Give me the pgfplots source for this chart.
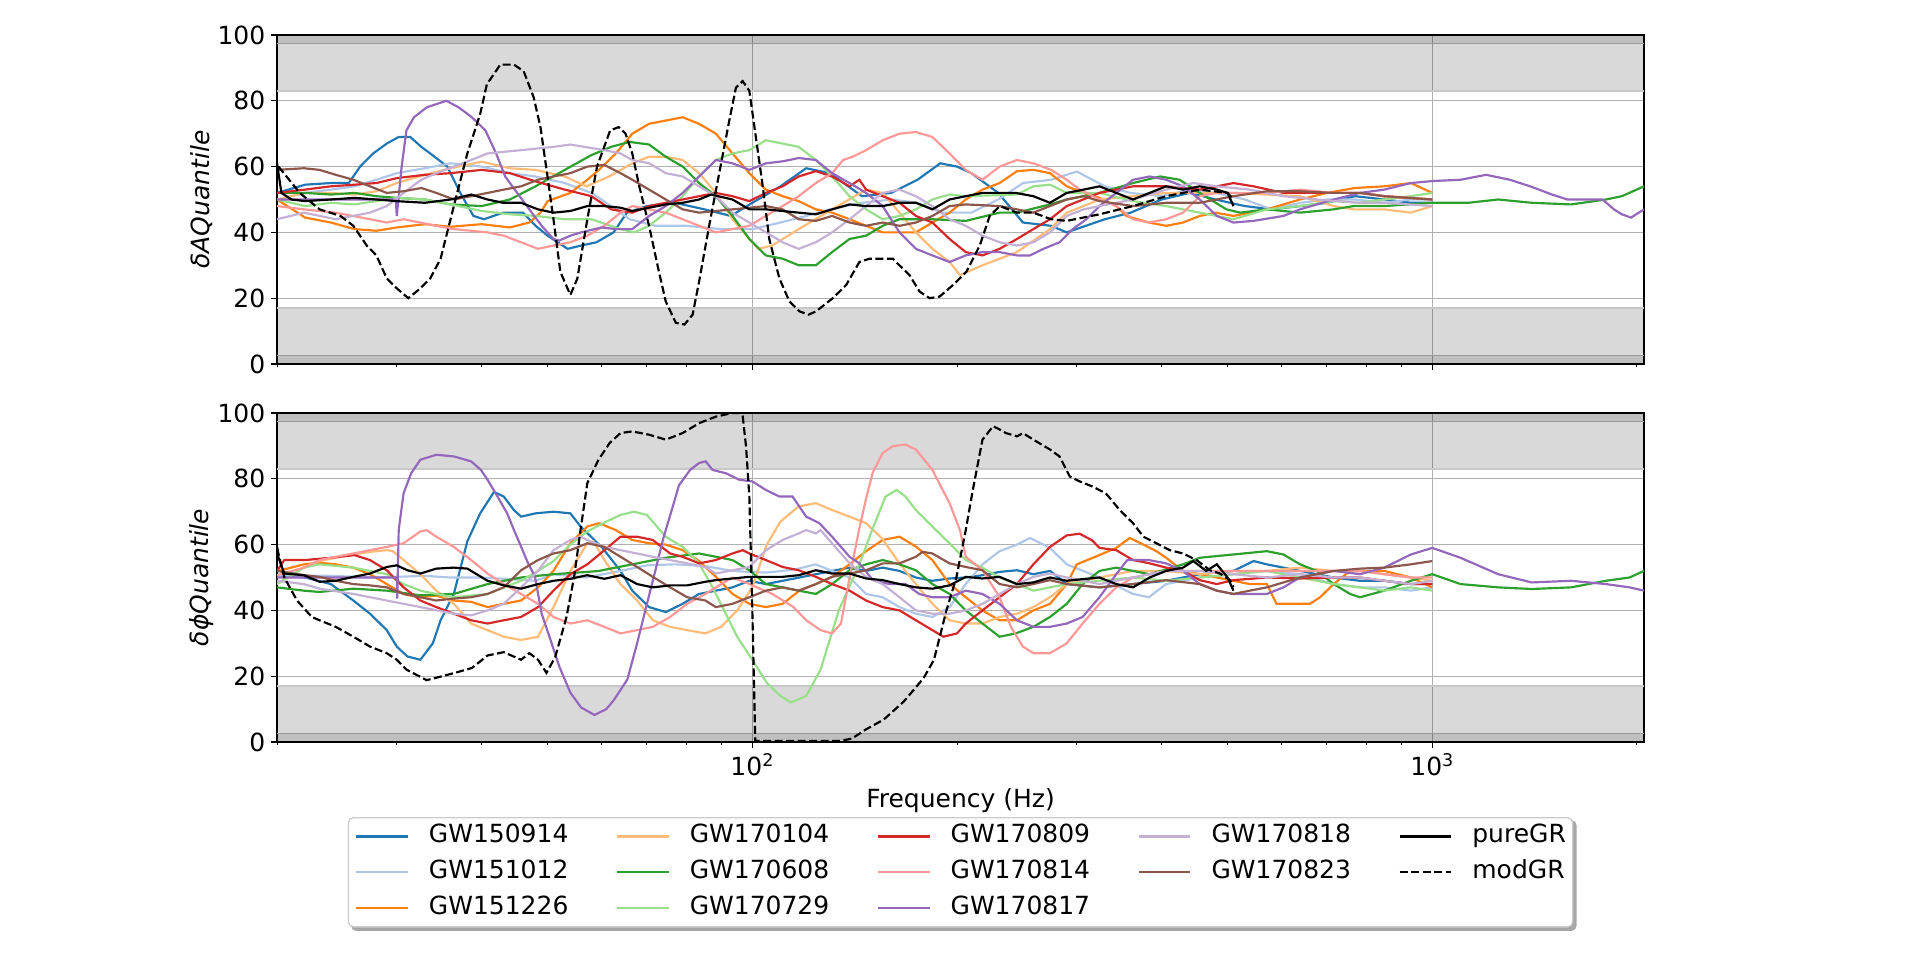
\documentclass[border=0pt]{standalone}
\usepackage{fontspec}
\setmainfont{DejaVu Sans}
\usepackage{pgfplots}
\pgfplotsset{compat=1.18}
\pgfdeclarelayer{background}
\pgfsetlayers{background,main}
\definecolor{c1}{HTML}{1F77B4}
\definecolor{c2}{HTML}{AEC7E8}
\definecolor{c3}{HTML}{FF7F0E}
\definecolor{c4}{HTML}{FFBB78}
\definecolor{c5}{HTML}{2CA02C}
\definecolor{c6}{HTML}{98DF8A}
\definecolor{c7}{HTML}{D62728}
\definecolor{c8}{HTML}{FF9896}
\definecolor{c9}{HTML}{9467BD}
\definecolor{c10}{HTML}{C5B0D5}
\definecolor{c11}{HTML}{8C564B}
\definecolor{gridc}{HTML}{B0B0B0}
\definecolor{legc}{HTML}{CCCCCC}
\definecolor{bandline}{HTML}{C8C8C8}
\definecolor{darkline}{HTML}{999999}
\newcommand{\myfs}{\fontsize{15}{18}\selectfont}
\newcommand{\bands}{%
  \fill[black, fill opacity=0.15] (rel axis cs:0,0.83) rectangle (rel axis cs:1,1);
  \fill[black, fill opacity=0.12] (rel axis cs:0,0.975) rectangle (rel axis cs:1,1);
  \fill[black, fill opacity=0.15] (rel axis cs:0,0) rectangle (rel axis cs:1,0.17);
  \fill[black, fill opacity=0.12] (rel axis cs:0,0) rectangle (rel axis cs:1,0.025);
  \draw[bandline, line width=0.8pt] (rel axis cs:0,0.83) -- (rel axis cs:1,0.83);
  \draw[bandline, line width=0.8pt] (rel axis cs:0,0.17) -- (rel axis cs:1,0.17);
  \draw[darkline, line width=0.8pt] (rel axis cs:0,0.975) -- (rel axis cs:1,0.975);
  \draw[darkline, line width=0.8pt] (rel axis cs:0,0.025) -- (rel axis cs:1,0.025);
}
\begin{document}
\begin{tikzpicture}
\path[use as bounding box] (0,0) rectangle (1152pt,573pt);
% ---------------- TOP PANEL ----------------
\begin{axis}[at={(166.2pt,354.6pt)}, anchor=south west,
    scale only axis, width=820.2pt, height=197.4pt,
    xmode=log, xmin=20, xmax=2048, ymin=0, ymax=100,
    xtick={100,1000}, xticklabels={},
    minor xtick={20,30,40,50,60,70,80,90,200,300,400,500,600,700,800,900,2000},
    ytick={0,20,40,60,80,100},
    yticklabels={0,20,40,60,80,100},
    xmajorgrids, ymajorgrids,
    major grid style={draw=gridc, line width=0.8pt},
    tick align=outside, tick pos=left,
    major tick length=3.5pt, minor tick length=2pt,
    major tick style={black, line width=0.8pt},
    minor tick style={black, line width=0.6pt},
    axis line style={line width=0.8pt},
    tick label style={font=\myfs},
    ylabel style={font=\myfs, at={(axis description cs:-0.0553,0.5)}, anchor=center},
    ylabel={\textit{δAQuantile}}]
\bands
\addplot[c1, line width=1.3pt] coordinates {(20,52)(22,54.5)(24,55)(25.5,55)(26.5,60)(27.7,64)(29,67)(30.2,69)(31.4,69)(32.6,66)(34.1,63)(35.6,60)(37.2,52)(38.9,45)(40.3,44)(43,46)(46,46)(48,42)(50,39)(53.5,35)(56,36)(59,37)(62.5,40)(65.4,46)(70,48)(77,49)(85,47)(93,45)(100,49)(110,54)(120,59.5)(130,58)(145,51)(160,52)(175,56)(189,61)(200,60)(210,58)(230,52)(250,43)(275,42)(290,40)(330,44)(360,46)(400,50)(440,52)(480,50)(530,48)(580,47)(640,48)(700,49)(770,51)(850,50)(930,49)(1000,49)};
\addplot[c2, line width=1.3pt] coordinates {(20,50)(22,52)(24,53)(26,54)(28,56)(30,58)(33,59.5)(36,61)(40,60)(44,58)(48,57)(53,55)(58,52)(62,48)(66,44)(72,42)(80,42)(90,41)(100,41)(110,43)(120,45)(130,47)(145,49)(160,50)(175,49)(190,46)(210,46)(230,50)(250,55)(275,56)(300,58.5)(330,54)(360,52)(400,51)(440,53)(480,52)(530,50)(580,47)(640,49)(700,50)(770,50)(850,49)(930,50)(1000,50)};
\addplot[c3, line width=1.3pt] coordinates {(20,50)(22,44.5)(24,43)(26,41)(28,40.5)(30,41.5)(33,42.5)(36,41.7)(40,42.5)(44,41.5)(47,43)(48.8,46)(50,49.5)(54,52)(57.2,56)(59.5,59)(63,64)(66.6,70)(70.5,73)(74.6,74)(79,75)(83.5,73)(88.4,70)(93.5,64)(99,58)(104.7,53)(110.8,51)(117,49.5)(124,47)(131,46)(139,44)(147,42)(155.5,40)(164.6,40)(174,40)(184,43)(195,46)(206,50)(218,53)(231,55)(245,58.6)(259,59)(274,58)(290,54)(307,52)(324,50.5)(343,48)(355,45)(383,43)(406,42)(430,43)(455,45)(480,46)(510,45)(571,47)(639,50)(700,52)(770,53.5)(850,54)(930,55)(1000,52)};
\addplot[c4, line width=1.3pt] coordinates {(20,50)(22,52)(24,52)(26,51.5)(28,52.5)(30,55)(33,57.5)(36,59.5)(40,61.5)(44,59.5)(48,59)(53,57)(57,54)(61.6,57)(66.6,61)(70.5,63)(74.6,63)(79,62)(83.5,58)(88.4,52)(93.5,44)(99,38)(102,35)(107,36)(117,41)(131,47)(147,53)(155.5,52)(164.6,46)(174,40)(184,35)(195,31)(202,27)(218,30)(245,34)(274,41)(290,46)(307,48)(324,50)(363,51)(406,52)(510,52)(639,51)(716,48)(766,47)(850,47)(930,46)(1000,48)};
\addplot[c5, line width=1.3pt] coordinates {(20,52)(22,52)(24,51.5)(26,52)(28,51)(30,50.5)(33,50)(36,48.5)(40,48)(44,50)(48,54)(53,59)(58,63.5)(62,66)(66,67.5)(70.5,66.7)(74.6,63)(79,60)(83.5,55)(88.4,51)(93.5,45)(99,38)(104.7,33)(110.8,32)(117,30)(124,30)(131,34)(139,38)(147,39)(155.5,42)(164.6,44)(184,44)(206,43.5)(231,46)(245,46)(274,48.5)(290,50)(324,52)(363,55)(398,57)(425,56)(455,52)(498,47)(522,46)(571,47)(639,46)(716,47)(766,48)(850,48)(1000,49)(1130,49)(1250,50)(1400,49)(1600,48.5)(1800,50)(1900,51)(2048,54)};
\addplot[c6, line width=1.3pt] coordinates {(20,50)(22,48)(24,49)(26,48.5)(28,49.5)(30,50.5)(33,50)(36,48.5)(40,46.5)(44,45.5)(48,45)(53,44)(58,44)(64,41)(67,40)(70.5,42)(74.6,46)(79,51)(83.5,57)(88.4,62)(93.5,64)(99,65)(104.7,68)(110.8,67)(117,66)(124,62)(131,57)(139,51)(147,47)(155.5,44)(164.6,45)(174,47)(184,50)(195,51.5)(206,51)(245,51.5)(259,54)(274,54.5)(290,52)(324,52)(363,49.5)(406,48)(455,46)(510,44)(571,47)(639,48)(716,49.5)(780,49)(850,50)(930,51)(1000,52)};
\addplot[c7, line width=1.3pt] coordinates {(20,52)(22,53)(24,54)(26,54.5)(28,55)(30,56.5)(33,57.5)(36,58)(40,59)(44,58)(48,55.5)(53,53)(58,51)(62,47)(66.6,46)(70.5,48)(74.6,49)(79,50)(83.5,51)(88.4,52)(93.5,51)(99,49.5)(104.7,52)(110.8,54)(117,57)(124,58.6)(131,57)(139,54)(143.7,56)(147,53)(155.5,51)(164.6,49)(174,45)(184,43)(195,38)(206,34)(218,33)(231,35)(245,38)(259,41)(274,44)(290,48)(324,52)(363,54)(406,54)(455,53)(510,55)(546,54)(604,52)(716,52)(783,52)(850,51)(1000,50)};
\addplot[c8, line width=1.3pt] coordinates {(20,48)(21.9,47)(24.4,46)(27.4,44)(29,43)(30.7,44)(34.3,42)(36.4,41)(40.8,40)(43.1,39)(45.7,37)(48.4,35)(51,36)(54,37)(57.2,39)(60.6,42)(64,46)(66.6,48)(70.5,47)(74.6,46)(79,44)(83.5,42)(88.4,40)(93.5,41)(99,42)(104.7,45)(110.8,48)(117,51)(124,55)(131,58)(136,62)(140.5,63)(147,65)(155.5,68)(164.6,70)(174,70.5)(184,69)(195,64)(206,59)(218,56)(231,60)(245,62)(259,61)(275,59)(290,56)(303,53)(324,50)(343,48)(363,44)(383,43)(406,44)(430,46)(455,51)(482,52)(571,52)(639,53)(716,52)(783,52)(850,51)(1000,50)};
\addplot[c9, line width=1.3pt] coordinates {(20,50)(29.9,50)(30,45)(30.5,60)(31,71)(31.8,75)(33.2,78)(35.5,80)(37,78)(38.7,75)(40.5,71)(42,64)(43.3,57)(45.1,52)(47,47)(49,42)(51,38)(52,37.5)(54,39)(56,40)(60,41.5)(63,41)(66.6,41)(70.5,45)(74.6,48)(79,52)(83.5,57)(88.4,62)(93.5,61)(99,59)(104.7,61)(110.8,61.6)(117,62.6)(124,62)(131,58)(139,55)(147,52)(155.5,48)(164.6,40)(174,35)(184,33)(195,31)(206,33)(218,34)(231,34)(245,33)(256,33)(268,35)(283,37)(296,41)(310,44)(324,48)(343,52)(363,56)(384,57)(406,56)(430,54)(455,50)(482,45)(510,43)(546,43.5)(604,45)(639,47)(716,50)(783,52)(850,53)(930,55)(1000,55.6)(1100,56)(1200,57.5)(1300,56)(1393,54)(1500,51.5)(1580,50)(1700,50)(1780,50)(1850,47)(1900,45.5)(1960,44.5)(2048,47)};
\addplot[c10, line width=1.3pt] coordinates {(20,44)(21.9,46)(24.4,44)(27.4,46)(29,48)(30.7,52)(32.6,56)(34.3,58)(36.4,60)(38.6,62)(40.8,64)(45.7,65)(51,66)(54,66.7)(60.6,65)(64,64)(66.6,62)(70.5,61)(74.6,58)(79,57)(83.5,54)(88.4,51)(93.5,46)(99,43)(104.7,40)(110.8,37)(117,35)(124,37)(131,40)(139,44)(147,48)(155.5,52)(164.6,53)(174,51)(184,48)(195,44)(206,42)(218,39)(231,37)(245,36)(259,37)(274,40)(290,45)(307,47)(324,48)(363,50)(406,53)(445,55)(482,54)(539,53)(604,51)(676,50)(783,49)(850,49)(1000,48)};
\addplot[c11, line width=1.3pt] coordinates {(20,59)(21.9,59.5)(23.1,59)(24.4,57.5)(25.9,56)(27.4,54)(29,52)(30.7,52.5)(32.6,53.5)(34.3,52)(36.4,50)(38.6,51)(40.8,52)(43.1,53)(45.7,54)(48.4,56)(51,57)(54,58)(57.2,60)(60.6,60.5)(64,58)(66.6,56)(70.5,53)(74.6,50)(79,47)(83.5,46)(88.4,46.5)(93.5,47)(104.7,48)(110.8,47)(117,44)(124,43.5)(131,45)(139,43)(147,42)(155.5,43)(164.6,42)(174,43)(184,45)(195,48)(206,48.5)(231,48)(245,47)(259,46)(274,48)(290,50)(307,51)(324,49.5)(363,48)(406,49)(455,49)(510,51)(571,52.5)(639,52.5)(716,52)(783,52)(850,51)(1000,50)};
\addplot[black, line width=1.3pt] coordinates {(20,61)(20.3,52)(21,50)(22,49.5)(24,50)(26,50.5)(28,50)(30,49.5)(33,49)(36,50)(38.6,51.5)(40.8,50)(43,49)(45.7,49)(48.4,47)(51,46)(54,46.5)(57.2,48)(60.6,48)(64,47.5)(66.6,46.5)(70.5,47.5)(74.6,48.5)(79,49)(83.5,50)(87,51.5)(93.5,50)(99,47)(104.7,47)(110.8,46.5)(117,46)(124,45.5)(131,47)(139,48.5)(147,48)(155.5,48)(164.6,49)(174,49)(184,47)(195,50)(206,51)(218,52)(231,52)(244,52)(259,51)(274,49)(290,52)(307,53)(324,54)(343,52)(363,50)(384,52)(406,54)(430,53)(455,54)(482,53)(500,52)(510,48)};
\addplot[black, line width=1.3pt, dash pattern=on 4.8pt off 2.1pt] coordinates {(20.1,60)(21.6,52)(23.1,47)(24.8,45)(25.9,42)(27.1,36)(28.0,33)(29.0,26)(30.0,23)(31.2,20)(32.5,23)(33.6,26)(34.8,32)(36.4,48)(38.1,64)(39.8,76)(40.7,85)(42.6,91)(44.6,91)(46.1,89)(47.7,81)(48.8,72)(49.9,58)(51.0,44)(52.2,28)(54.0,21)(55.3,26)(57.2,44)(59.1,60)(61.8,71)(63.6,72)(65.1,70)(66.6,64)(68.2,54)(70.5,42)(72.9,28)(74.6,19)(77.2,12.5)(79.5,12)(81.7,15)(83.5,25)(86.4,42)(89.4,58)(92.5,74)(94.6,84)(96.8,86)(99.0,83)(101.2,69)(103.6,54)(105.9,38)(109.6,26)(113.4,19)(117.3,16)(121,15)(124.1,16)(131.3,20)(137.4,24)(143.7,31)(148.7,32)(155.5,32)(160.9,32)(164.6,30)(170.3,27)(176.2,22)(182.3,20)(188.6,20.5)(197.3,24)(206.4,28)(216,36)(223.4,45)(231.2,48)(245,46)(259,46)(275,44)(290,43.5)(324,45.5)(363,48)(406,51)(455,53)(500,52)(510,50)};
\end{axis}
% ---------------- BOTTOM PANEL ----------------
\begin{axis}[at={(166.2pt,127.8pt)}, anchor=south west,
    scale only axis, width=820.2pt, height=197.4pt,
    xmode=log, xmin=20, xmax=2048, ymin=0, ymax=100,
    xtick={100,1000}, xticklabels={10\textsuperscript{2},10\textsuperscript{3}},
    minor xtick={20,30,40,50,60,70,80,90,200,300,400,500,600,700,800,900,2000},
    ytick={0,20,40,60,80,100},
    yticklabels={0,20,40,60,80,100},
    xmajorgrids, ymajorgrids,
    major grid style={draw=gridc, line width=0.8pt},
    tick align=outside, tick pos=left,
    major tick length=3.5pt, minor tick length=2pt,
    major tick style={black, line width=0.8pt},
    minor tick style={black, line width=0.6pt},
    axis line style={line width=0.8pt},
    tick label style={font=\myfs},
    ylabel style={font=\myfs, at={(axis description cs:-0.0553,0.5)}, anchor=center},
    ylabel={\textit{δϕQuantile}},
    xlabel style={font=\myfs, at={(axis description cs:0.5,-0.177)}, anchor=center},
    xlabel={Frequency (Hz)},
    legend columns=5,
    legend cell align=left,
    legend image code/.code={\draw[#1] (0pt,0pt) -- (31pt,0pt);},
    legend style={name=L, at={(0.5,-0.228)}, anchor=north, font=\myfs,
      draw=legc, line width=0.8pt, rounded corners=3pt, fill=white,
      inner xsep=4pt, inner ysep=4pt,
      /tikz/every odd column/.append style={column sep=12pt},
      /tikz/every even column/.append style={column sep=28.5pt},
      /tikz/row sep=7pt,
      nodes={inner sep=0pt, text height=11pt, text depth=3.5pt},
      cells={anchor=west}},
]
\addlegendimage{c1, line width=1.3pt}\addlegendentry{GW150914}
\addlegendimage{c4, line width=1.3pt}\addlegendentry{GW170104}
\addlegendimage{c7, line width=1.3pt}\addlegendentry{GW170809}
\addlegendimage{c10, line width=1.3pt}\addlegendentry{GW170818}
\addlegendimage{black, line width=1.3pt}\addlegendentry{pureGR}
\addlegendimage{c2, line width=1.3pt}\addlegendentry{GW151012}
\addlegendimage{c5, line width=1.3pt}\addlegendentry{GW170608}
\addlegendimage{c8, line width=1.3pt}\addlegendentry{GW170814}
\addlegendimage{c11, line width=1.3pt}\addlegendentry{GW170823}
\addlegendimage{black, line width=1.3pt, dash pattern=on 4.8pt off 2.1pt}\addlegendentry{modGR}
\addlegendimage{c3, line width=1.3pt}\addlegendentry{GW151226}
\addlegendimage{c6, line width=1.3pt}\addlegendentry{GW170729}
\addlegendimage{c9, line width=1.3pt}\addlegendentry{GW170817}
\bands
\addplot[c1, line width=1.3pt, forget plot] coordinates {(20.1,50.7)(22,50)(24,48)(25.9,43)(27.4,39)(29,34)(30,29)(31.1,26)(32.5,25)(33.9,30)(34.8,37)(36.4,45)(38.1,61)(39.8,69.5)(41.7,76)(43.1,74.6)(44.6,70.5)(45.7,68.5)(48,69.5)(51,70)(54,69.5)(55.9,65.5)(60.2,59)(64,52)(66.6,46)(70.5,41)(74.6,39.5)(79,42)(83.5,45)(88.4,46)(93.5,47)(99,49)(104.7,48)(110.8,49)(117.3,50)(124,51)(131,52)(139,53)(147,52)(155.5,53)(164.6,52)(174,50)(184,49)(195,49.7)(206,50)(218,50.7)(231,51.7)(245,52.2)(259,51)(274,52)(290,48)(324,47)(363,48)(406,49)(455,51)(510,52)(546,55)(571,54)(639,52)(716,50)(783,49)(850,49)(930,48)(1000,48)};
\addplot[c2, line width=1.3pt, forget plot] coordinates {(20,50.7)(24,50.5)(28,50)(33,50.5)(36,50)(40,50)(44,49.5)(48,49)(51,51)(57,50)(64,52)(70,53.7)(77,54)(85,53.5)(93.5,52)(99,51.7)(104.7,51.5)(110.8,52)(117,52.7)(124,54)(131,52)(139,50)(147,45)(155.5,44)(164.6,41)(174,39)(184,38)(195,41)(206,48)(218,54)(231,58)(245,60)(256,62)(274,59)(290,54)(324,50)(363,45)(383,44)(406,48)(455,50)(510,51)(571,52)(639,51)(716,48)(783,47)(850,47)(930,46)(1000,47)};
\addplot[c3, line width=1.3pt, forget plot] coordinates {(20.1,52)(21.9,54)(23.1,54.5)(24.4,54)(25.9,53)(27.4,51)(29,48)(30.7,45)(32.5,44)(34.3,44.5)(36.4,43)(38.6,42.6)(40.8,41)(43.1,42)(45.7,43)(48.4,47)(51,52)(54,60.4)(57.2,65.5)(59.5,66.5)(63,64.4)(66.6,61.4)(70.5,60.4)(74.6,60)(79,58.3)(83.5,55)(88.4,50.2)(93.5,45)(99,42)(104.7,41)(110.8,42)(117.3,46)(124,48)(131,50.2)(139,54)(147,58)(155.5,61.4)(164.6,62.4)(174,59.4)(184,55.3)(195,48)(206,44)(218,40)(231,37)(245,37)(259,40)(274,42)(290,48)(300,54)(317,56)(343,59)(359,62)(376,60)(393,58)(406,56)(430,52)(482,50)(539,48)(571,48)(590,42)(661,42)(684,44)(716,48)(757,52)(783,52)(850,52)(930,50)(1000,47)};
\addplot[c4, line width=1.3pt, forget plot] coordinates {(20,48)(21.9,53)(23.1,55)(24.4,56)(25.9,57)(27.4,57.8)(29,58.3)(29.6,58)(30.7,55.3)(32.5,51)(34.3,46)(36.4,42)(38.6,36)(40.8,34)(43.1,32)(45.7,31)(48.4,32)(51,41)(54,52)(57.2,60.4)(58.4,61)(60.6,55.3)(64,48)(67.7,43)(71.4,37)(75.7,35)(80.2,34)(85.3,33)(90,35)(95,40)(100,47)(105,60)(110,67)(117,71.6)(124,72.6)(131,70.5)(139,68.5)(147,66.5)(155,62)(165,54)(174,48)(184,42)(195,37)(206,36)(218,36)(231,38)(245,39)(259,41)(274,44)(290,48)(324,50)(363,52)(406,52)(455,51)(510,52)(571,52)(639,53)(716,52)(783,52)(850,51)(930,50)(1000,49)};
\addplot[c5, line width=1.3pt, forget plot] coordinates {(20,47)(21.9,46)(23.1,45.6)(25.9,46.6)(29,46)(32.5,44.6)(36.4,45)(40.8,48)(45.7,50)(51,51)(57.2,51.7)(59.5,52)(66.6,54)(74.6,56)(83.5,57.3)(88.4,56.3)(93.5,55.3)(99,52.2)(104.7,48)(110.8,47)(117,46)(124,45)(131,48)(139,52.2)(147,54)(155.5,55.3)(164.6,54)(174,52.2)(184,48)(195,45)(206,40)(218,36)(231,32)(244,33)(259,35)(274,38)(290,42)(306,48)(324,52)(343,53)(363,52)(384,51)(430,54)(455,56)(510,57)(571,58)(604,57)(639,54)(676,52)(716,48)(757,45)(783,44)(850,46)(930,49)(1000,51)(1100,48)(1250,47)(1400,46.5)(1600,47)(1800,49)(1950,50)(2048,52)};
\addplot[c6, line width=1.3pt, forget plot] coordinates {(20,48)(21.9,53)(23.1,54)(25.9,53)(27.4,52)(29,51)(30.7,48)(32.5,46)(34.3,45)(36.4,44)(40.8,45)(43.1,47)(45.7,49)(48.4,52)(51,55)(54,60)(57.2,64)(61,67)(64,69)(67,70)(70,69)(74.6,62.4)(79,59.3)(83.5,54.3)(87.4,47)(90.4,41)(95,32)(100,25)(105,18)(110,14)(114,12)(120,14)(126,22)(134,40)(143.7,54)(150,64.4)(157,74.6)(163,76.6)(168,74.6)(174,70.5)(184,65.5)(195,60.4)(206,55.3)(218,53)(231,50)(245,48)(259,46)(274,47)(290,48)(324,49)(363,50)(406,49)(455,50)(510,51)(571,52)(639,50)(716,48)(783,47)(850,46)(930,47)(1000,46)};
\addplot[c7, line width=1.3pt, forget plot] coordinates {(20,52)(20.5,55.3)(22,55.3)(24,56)(26,56.8)(27.4,55.3)(29,52.2)(30.7,47)(32.5,43)(34.3,41)(36.4,39)(38.6,37)(40.8,36)(43.1,37)(45.7,38)(48.4,41)(51,46)(54,51)(57.2,54)(60.6,58.3)(64,62.4)(67.7,62.4)(71.4,61.4)(75.7,57.3)(79,56.3)(83.5,54.3)(88.4,55.3)(93.5,57.3)(96.8,58.3)(99,57.3)(104.7,55.3)(110.8,53.2)(117,52.2)(124,50.2)(131,48)(139,46)(147,43)(155.5,41)(164.6,40)(174,37)(184,34)(191,32)(200,33)(206,36)(218,40)(231,44)(245,48)(259,54)(274,59.3)(290,62.8)(303,63.3)(316,61.3)(324,59)(343,58.3)(363,55.3)(384,54.3)(406,53)(430,52)(455,49.2)(482,48)(510,49.2)(571,50)(639,49.7)(716,50)(783,50)(850,49)(930,48)(1000,48)};
\addplot[c8, line width=1.3pt, forget plot] coordinates {(20,50.7)(21.9,53)(23.1,55.3)(24.4,56.3)(25.9,57.3)(27.4,58.3)(29,59.3)(30.7,60.4)(32.5,64)(33.2,64.4)(34.3,62.4)(36.4,59.3)(38.6,55.3)(40.8,51.2)(43.1,48)(45.7,45)(48.4,42)(51,38)(54,36)(57.2,37)(60.6,35)(64,33)(67.7,34)(71.4,35)(75.7,38)(80.2,42)(85.3,45)(88.4,47)(93.5,50)(99,48)(107,45)(115,41)(120,37)(126,34)(131,33)(135,36)(139,50)(143.7,65)(147,74)(150.4,82)(155.5,87.8)(160.9,89.9)(168,90.4)(174,88.9)(184,82.7)(195,72.6)(202,64.4)(206,56.3)(218,52.2)(231,44)(240,35)(250,29)(259,27)(274,27)(290,30)(306,36)(324,42)(343,47)(363,50)(384,51)(406,52)(510,52)(716,52)(783,52)(850,51)(930,50)(1000,50)};
\addplot[c9, line width=1.3pt, forget plot] coordinates {(20,50)(30,50)(30.05,43.6)(30.2,64.5)(30.7,75.6)(31.5,81.7)(32.5,85.8)(34.3,87.3)(36.4,86.8)(38.6,85.3)(39.9,82.7)(40.8,79.7)(42.2,74.6)(43.6,69.5)(44.6,64.5)(45.7,59.4)(46.8,54.3)(47.9,50.3)(49,39)(50.5,31)(52,23)(54,15)(56,10.5)(58.6,8.2)(61,10)(62.6,12.8)(65.5,19)(67.7,30)(70,42)(72,52)(74,62)(76,70)(78,78)(81,82.7)(83.5,84.8)(85.4,85.3)(87.4,82.7)(91.4,81.7)(95.7,79.7)(100,79.2)(104.7,76.6)(109.6,74.6)(114.6,74.6)(120,68.5)(125.5,66.5)(131,62.4)(139,56.3)(143.7,54.3)(150.4,49.2)(159,48)(168,48)(176,45)(184,44)(195,44)(206,46)(218,45)(231,42)(245,37)(259,35)(274,35)(290,36)(306,38)(324,44)(343,51)(356,55.3)(383,55.3)(406,54.3)(430,52)(455,48)(482,46)(510,45)(571,45)(604,47)(639,50)(716,52)(783,51)(850,53)(930,57)(1000,59)(1100,56)(1250,51)(1400,48.5)(1600,49)(1800,48)(1950,47)(2048,46)};
\addplot[c10, line width=1.3pt, forget plot] coordinates {(20,49)(21.9,48)(23.1,46.6)(25.9,45)(29,43)(32.5,41)(36.4,39)(38.6,38.5)(40.8,40)(43.1,42)(45.7,47)(48.4,52)(51,58.3)(54,61.4)(55.9,62.4)(57.2,61.4)(60.6,59.3)(64,58.3)(67.7,57.3)(71.4,56.3)(75.7,55.3)(80.2,54.3)(85.3,53.2)(88.4,51.2)(93.5,52.2)(99,53.2)(104.7,58.3)(110.8,61.4)(117,63.4)(120,64.4)(124,63.4)(126,64.4)(131,60.4)(139,54.3)(147,50.2)(155.5,48)(164.6,44)(174,40)(184,39)(195,39)(206,40)(218,42)(231,45)(245,48)(259,50.2)(274,51.2)(290,50)(324,48)(363,50)(406,52)(455,52)(510,51)(571,50)(639,51)(716,50)(783,50)(850,49)(930,48)(1000,49)};
\addplot[c11, line width=1.3pt, forget plot] coordinates {(20,52)(21.9,50.7)(23.1,50.2)(24.4,49)(25.9,48)(27.4,47.6)(29,47)(30.7,45)(32.5,44)(34.3,43)(36.4,43.6)(38.6,44)(40.8,45)(43.1,47)(45.7,52.2)(48.4,55.3)(51,57.3)(54,58.3)(57.2,60.4)(60.6,59.3)(64,56.3)(67.7,53.2)(71.4,50.2)(75.7,47)(80.2,44)(85.3,43)(88.4,41)(93.5,42)(99,44)(104.7,46)(110.8,47)(117,46)(124,48)(131,50.2)(139,51.2)(147,52.2)(155.5,54.3)(164.6,54.3)(174,56.3)(178,57.8)(184,57.3)(195,54.3)(206,53.2)(218,52.2)(231,48)(245,47)(259,48)(274,49.2)(290,48)(324,47)(363,48)(406,49.2)(455,48)(482,46)(510,45)(539,46)(571,47)(639,50)(716,52)(783,52.7)(850,53)(930,54)(1000,55)};
\addplot[black, line width=1.3pt, forget plot] coordinates {(20,59.4)(20.1,56)(20.5,51.2)(21.9,50.7)(23.1,48.7)(24.4,49)(25.9,50.2)(27.4,51.2)(29,53.2)(30,53.7)(31.1,52.2)(32.5,51.2)(34.3,52.7)(36.4,53)(38.1,52.7)(40.8,49)(43.1,47.6)(45.7,46.6)(48.4,48)(51,49)(54,49.6)(57.2,50.7)(60.6,49.6)(64,50.7)(67.7,48)(71.4,47)(75.7,47.6)(80.2,47.6)(85.3,48.7)(88.4,49.2)(93.5,49.7)(99,50.2)(104.7,50.2)(110.8,50.2)(117,50.7)(124,52.2)(131,51.2)(139,51.2)(147,49.7)(155.5,49.2)(164.6,48)(174,47)(184,46.6)(195,47.6)(206,50.2)(218,49.7)(231,50.2)(245,48)(259,48.5)(274,50)(290,49)(306,49.5)(324,50)(343,48)(363,47)(384,50)(406,52)(430,53)(445,55)(465,52)(482,54)(500,50)(510,46)};
\addplot[black, line width=1.3pt, dash pattern=on 4.8pt off 2.1pt, forget plot] coordinates {(20,59)(20.5,50)(21.4,43)(22.5,38)(23.1,37)(24.4,35)(25.9,32)(27.4,29)(29,27)(30,25)(31,22)(33.2,18.8)(35,20)(36.5,21)(38.7,22.5)(40.8,26.3)(43.1,27.3)(45.7,25)(47,27)(48.4,25)(49.8,21)(51.3,25.8)(53.3,38)(54.7,50.2)(55.9,64.5)(57.2,78.7)(59.4,85.8)(61.7,90.9)(64,93.9)(66.6,94.4)(70.5,93.4)(74.6,91.9)(79,93.9)(83.5,96.9)(88.4,98.9)(93.5,100)(95.7,100)(96.8,99)(97.9,89.8)(99,74.6)(100,40)(101,0.3)(134,0.3)(140,1)(146.6,3.7)(156,6.8)(167,12.3)(178.6,19.4)(185,25)(193,40)(199.6,50)(206,64.4)(211,76.6)(218,91.9)(226,96)(231,95)(236,93.9)(245,92.9)(250,93.9)(259,91.9)(274,88.9)(283,86.8)(293,80.7)(303,79.2)(316,77.7)(331,75.6)(347,70.5)(363,66.5)(376,62.4)(393,60.4)(411,58.3)(430,57.3)(450,55.3)(471,52.2)(487,51.2)(504,49.2)(510,47)};
\end{axis}
\begin{pgfonlayer}{background}
\fill[black!35, rounded corners=3pt] ([xshift=2pt,yshift=-2pt]L.south west) rectangle ([xshift=2pt,yshift=-2pt]L.north east);
\end{pgfonlayer}
\end{tikzpicture}
\end{document}
